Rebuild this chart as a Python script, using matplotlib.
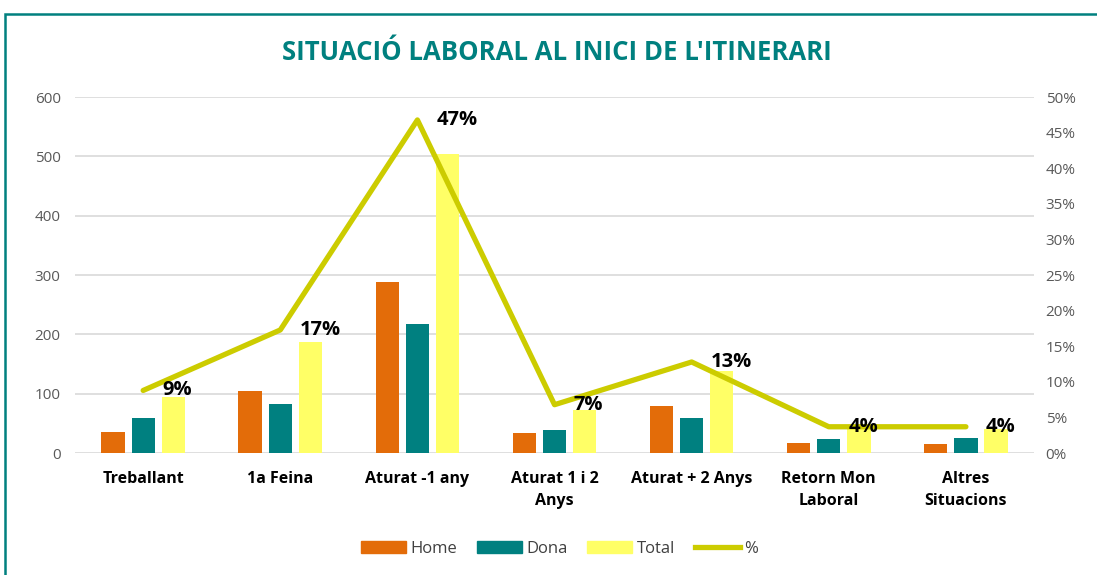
import matplotlib.pyplot as plt
import numpy as np
from matplotlib.patches import Rectangle
from matplotlib.lines import Line2D

plt.rcParams['font.family'] = ['Open Sans', 'DejaVu Sans']

categories = ['Treballant', '1a Feina', 'Aturat -1 any', 'Aturat 1 i 2\nAnys',
              'Aturat + 2 Anys', 'Retorn Mon\nLaboral', 'Altres\nSituacions']
home = [35, 104, 288, 34, 79, 17, 15]
dona = [60, 83, 217, 39, 59, 23, 25]
total = [95, 187, 505, 73, 138, 40, 40]
pct = [8.8, 17.3, 46.8, 6.8, 12.8, 3.7, 3.7]
pct_labels = ['9%', '17%', '47%', '7%', '13%', '4%', '4%']

c_home = '#E36C09'
c_dona = '#008080'
c_total = '#FFFF66'
c_line = '#CCCC00'

fig = plt.figure(figsize=(10.97, 5.75), dpi=100)
ax = fig.add_axes([0.068, 0.212, 0.875, 0.619])
ax2 = ax.twinx()

x = np.arange(len(categories))
w = 0.17
off = 0.22
ax.bar(x - off, home, w, color=c_home, zorder=3)
ax.bar(x, dona, w, color=c_dona, zorder=3)
ax.bar(x + off, total, w, color=c_total, zorder=3)

ax.set_xlim(-0.5, len(categories) - 0.5)
ax.set_ylim(0, 600)
ax.set_yticks(range(0, 601, 100))
ax.yaxis.grid(True, color='#D9D9D9', lw=1.2, zorder=0)
ax.set_axisbelow(True)
ax.set_xticks(x)
ax.set_xticklabels(categories, fontweight='bold', fontsize=11.5, color='black', linespacing=1.5)
ax.tick_params(axis='both', length=0)
ax.tick_params(axis='y', labelsize=11, labelcolor='#595959', pad=10)
ax.tick_params(axis='x', pad=13)
for s in ax.spines.values():
    s.set_visible(False)

ax2.plot(x, pct, color=c_line, lw=3.8, solid_capstyle='round', zorder=4)
ax2.set_ylim(0, 50)
ax2.set_yticks(range(0, 51, 5))
ax2.set_yticklabels([f'{v}%' for v in range(0, 51, 5)])
ax2.tick_params(axis='y', length=0, labelsize=11, labelcolor='#595959', pad=8)
for s in ax2.spines.values():
    s.set_visible(False)
for xi, p, lab in zip(x, pct, pct_labels):
    ax2.annotate(lab, (xi, p), xytext=(14, 0), textcoords='offset points',
                 ha='left', va='center', fontsize=14.5, fontweight='bold', color='black', zorder=5)

fig.text(0.508, 0.909, "SITUACIÓ LABORAL AL INICI DE L'ITINERARI", ha='center', va='center',
         fontsize=18.5, fontweight='bold', color='#00807F')

handles = [Rectangle((0, 0), 1, 1, color=c_home), Rectangle((0, 0), 1, 1, color=c_dona),
           Rectangle((0, 0), 1, 1, color=c_total), Line2D([], [], color=c_line, lw=3.8)]
fig.legend(handles, ['Home', 'Dona', 'Total', '%'], loc='center', bbox_to_anchor=(0.51, 0.045),
           ncol=4, frameon=False, fontsize=12, handlelength=2.7, handleheight=0.7,
           handletextpad=0.25, columnspacing=1.2, labelcolor='#404040')

fig.add_artist(Rectangle((5 / 1097, -0.1), 1.2, 1 - 14 / 575 + 0.1, transform=fig.transFigure,
                         fill=False, edgecolor='#00807F', lw=1.8))

fig.savefig('out.png', dpi=100)
